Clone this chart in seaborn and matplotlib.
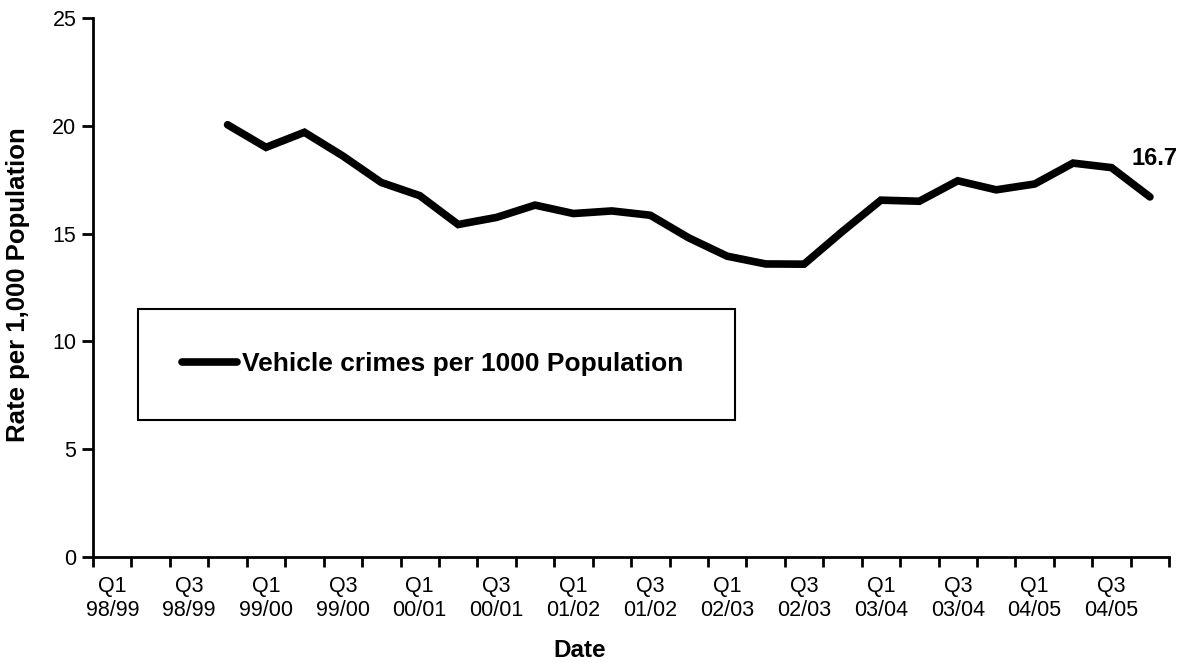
import matplotlib
matplotlib.use("Agg")
import matplotlib.pyplot as plt
import numpy as np
import pandas as pd
import seaborn as sns

# Quarter labels for the whole axis (financial years 98/99 to 04/05)
years = ["98/99", "99/00", "00/01", "01/02", "02/03", "03/04", "04/05"]
quarters = [f"Q{q}\n{y}" for y in years for q in range(1, 5)]

# Data starts at Q4 98/99
first_quarter = "Q4\n98/99"
rates = [20.05, 19.0, 19.7, 18.6, 17.37, 16.76, 15.42, 15.75, 16.32, 15.93,
         16.05, 15.85, 14.8, 13.95, 13.59, 13.58, 15.1, 16.55, 16.5, 17.45,
         17.03, 17.3, 18.27, 18.06, 16.7]
series_name = "Vehicle crimes per 1000 Population"

start = quarters.index(first_quarter)
df = pd.DataFrame({
    "quarter": quarters[start:start + len(rates)],
    "rate": rates,
})
# categories sit in the middle of each slot, Excel style
df["pos"] = [quarters.index(q) + 0.5 for q in df["quarter"]]

sns.set_style("ticks")
plt.rcParams["font.family"] = ["Liberation Sans", "DejaVu Sans"]
plt.rcParams["text.color"] = "black"
plt.rcParams["xtick.color"] = "black"
plt.rcParams["ytick.color"] = "black"
plt.rcParams["axes.labelcolor"] = "black"

fig, ax = plt.subplots(figsize=(11.93, 6.70), dpi=100)
fig.subplots_adjust(left=0.078, right=0.98, bottom=0.169, top=0.973)

sns.lineplot(data=df, x="pos", y="rate", color="black", linewidth=5.5,
             label=series_name, ax=ax, solid_capstyle="round",
             solid_joinstyle="miter")

# axes
ax.set_xlim(0, len(quarters))
ax.set_ylim(0, 25)
ax.set_yticks(np.arange(0, 26, 5))
ax.set_xticks(np.arange(0, len(quarters) + 1))
ax.set_xticklabels([])
ax.set_xticks(np.arange(0, len(quarters), 2) + 0.5, minor=True)
ax.set_xticklabels(quarters[::2], minor=True)
ax.tick_params(axis="x", which="minor", length=0, pad=14, labelsize=15.5)
ax.tick_params(axis="x", which="major", length=7, width=2, direction="out")
ax.tick_params(axis="y", length=8, width=2, direction="out", labelsize=15.5, pad=4)
for s in ["top", "right"]:
    ax.spines[s].set_visible(False)
for s in ["left", "bottom"]:
    ax.spines[s].set_linewidth(2)
    ax.spines[s].set_color("black")

ax.set_xlabel("Date", fontsize=17.5, fontweight="bold")
ax.set_ylabel("Rate per 1,000 Population", fontsize=18.5, fontweight="bold")
ax.xaxis.set_label_coords(0.4526, -0.152)
ax.yaxis.set_label_coords(-0.059, 0.505)

# label the last value
last = df.iloc[-1]
ax.annotate(f"{last['rate']:.1f}", xy=(last["pos"], last["rate"]),
            xytext=(3, 28), textcoords="offset points", ha="center",
            va="center", fontsize=17, fontweight="bold")

leg = ax.legend(loc="center", bbox_to_anchor=(0.042, 0.254, 0.555, 0.206),
                mode="expand", fontsize=19, frameon=True, fancybox=False,
                borderpad=1.65, handlelength=2.1, handletextpad=0.2,
                borderaxespad=0)
leg.get_frame().set_edgecolor("black")
leg.get_frame().set_linewidth(1.5)
leg.get_frame().set_alpha(1)
for t in leg.get_texts():
    t.set_fontweight("bold")

fig.savefig("out.png", dpi=100)
